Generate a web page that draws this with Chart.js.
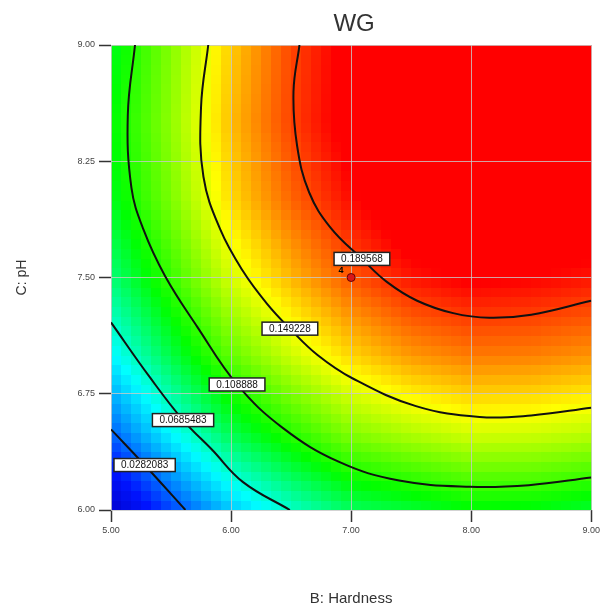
<!DOCTYPE html>
<html>
<head>
<meta charset="utf-8">
<title>WG</title>
<script src="https://cdn.jsdelivr.net/npm/chart.js@4.4.1/dist/chart.umd.min.js"></script>
<style>
  html, body { margin: 0; padding: 0; background: #fff; }
</style>
</head>
<body>
<canvas id="wgChart" width="603" height="612"></canvas>
<script>
// Grid (B: Hardness across, C: pH up)
const hardness = [5, 5.5, 6, 6.5, 7, 7.5, 8, 8.5, 9];
const pH = [6, 6.5, 7, 7.5, 8, 8.5, 9];
const wg = [
    [-0.012, 0.020, 0.048, 0.068, 0.085, 0.091, 0.098, 0.097, 0.092], // pH 6.0
    [0.027, 0.059, 0.088, 0.108, 0.126, 0.135, 0.142, 0.141, 0.137],  // pH 6.5
    [0.058, 0.089, 0.119, 0.140, 0.158, 0.170, 0.176, 0.175, 0.171],  // pH 7.0
    [0.081, 0.111, 0.142, 0.164, 0.183, 0.196, 0.202, 0.200, 0.196],  // pH 7.5
    [0.095, 0.124, 0.157, 0.180, 0.198, 0.213, 0.219, 0.218, 0.213],  // pH 8.0
    [0.099, 0.128, 0.163, 0.187, 0.206, 0.221, 0.227, 0.226, 0.220],  // pH 8.5
    [0.095, 0.126, 0.160, 0.186, 0.205, 0.220, 0.226, 0.225, 0.219]   // pH 9.0
];

// Contour lines
const contour1 = [[5.0, 6.52], [5.28, 6.29], [5.62, 6.0]];
const contour2 = [[5.0, 7.21], [5.32, 6.86], [5.60, 6.58], [5.84, 6.39], [6.10, 6.18], [6.49, 6.0]];
const contour3 = [[5.20, 9.0], [5.14, 8.55], [5.17, 8.08], [5.27, 7.81], [5.45, 7.51], [5.72, 7.18],
                  [6.05, 6.81], [6.43, 6.53], [6.90, 6.31], [7.40, 6.19], [7.99, 6.15], [8.48, 6.16], [9.0, 6.21]];
const contour4 = [[5.81, 9.0], [5.75, 8.6], [5.77, 8.15], [5.91, 7.81], [6.10, 7.54], [6.30, 7.33],
                  [6.49, 7.17], [6.72, 7.00], [7.01, 6.85], [7.54, 6.67], [8.07, 6.60], [8.5, 6.61], [9.0, 6.66]];
const contour5 = [[6.57, 9.0], [6.52, 8.7], [6.55, 8.35], [6.65, 8.05], [6.83, 7.82], [7.09, 7.62],
                  [7.3, 7.47], [7.55, 7.35], [7.85, 7.27], [8.15, 7.24], [8.5, 7.26], [9.0, 7.35]];
const contourText = ['0.0282083', '0.0685483', '0.108888', '0.149228', '0.189568'];
const contourLabelAt = [[5.28, 6.29], [5.60, 6.58], [6.05, 6.81], [6.49, 7.17], [7.09, 7.62]];

const designPoints = [[7.0, 7.5]];
const designCount = ['4'];

const xTicks = [5, 6, 7, 8, 9];
const yTicks = [6, 6.75, 7.5, 8.25, 9];

const FONT = "'Liberation Sans', Arial, sans-serif";

// dark blue -> blue -> cyan -> green -> yellow -> red
function rampColor(v) {
    const stops = [[-0.015, 0, 0, 200], [0.01, 0, 20, 255], [0.06, 0, 255, 255],
                   [0.10, 0, 255, 0], [0.15, 255, 255, 0], [0.20, 255, 0, 0]];
    if (v <= stops[0][0]) return 'rgb(0,0,200)';
    if (v >= stops[stops.length - 1][0]) return 'rgb(255,0,0)';
    for (let i = 1; i < stops.length; i++) {
        if (v <= stops[i][0]) {
            const a = stops[i - 1], b = stops[i];
            const t = (v - a[0]) / (b[0] - a[0]);
            return 'rgb(' + Math.round(a[1] + t * (b[1] - a[1])) + ',' +
                Math.round(a[2] + t * (b[2] - a[2])) + ',' +
                Math.round(a[3] + t * (b[3] - a[3])) + ')';
        }
    }
}

function locate(arr, v) {
    let i = 0;
    while (i < arr.length - 2 && v > arr[i + 1]) i++;
    return [i, (v - arr[i]) / (arr[i + 1] - arr[i])];
}

function sample(x, y) {
    const [i, tx] = locate(hardness, x);
    const [j, ty] = locate(pH, y);
    const a = wg[j][i], b = wg[j][i + 1], c = wg[j + 1][i], d = wg[j + 1][i + 1];
    return (a * (1 - tx) + b * tx) * (1 - ty) + (c * (1 - tx) + d * tx) * ty;
}

// heat map under the grid lines
const surfacePlugin = {
    id: 'surface',
    beforeDraw(chart) {
        const { ctx, scales: { x, y } } = chart;
        const nx = 48, ny = 48;
        const x0 = hardness[0], x1 = hardness[hardness.length - 1];
        const y0 = pH[0], y1 = pH[pH.length - 1];
        const dx = (x1 - x0) / nx, dy = (y1 - y0) / ny;
        ctx.save();
        for (let i = 0; i < nx; i++) {
            const l = Math.floor(x.getPixelForValue(x0 + i * dx));
            const r = Math.ceil(x.getPixelForValue(x0 + (i + 1) * dx));
            for (let j = 0; j < ny; j++) {
                const b = Math.ceil(y.getPixelForValue(y0 + j * dy));
                const t = Math.floor(y.getPixelForValue(y0 + (j + 1) * dy));
                ctx.fillStyle = rampColor(sample(x0 + (i + 0.5) * dx, y0 + (j + 0.5) * dy));
                ctx.fillRect(l, t, r - l, b - t);
            }
        }
        ctx.restore();
    }
};

// title, contour labels and replicate count
const textPlugin = {
    id: 'texts',
    afterDraw(chart) {
        const { ctx, chartArea, scales: { x, y } } = chart;
        ctx.save();
        ctx.fillStyle = '#333';
        ctx.font = '24px ' + FONT;
        ctx.textAlign = 'center';
        ctx.textBaseline = 'middle';
        ctx.fillText('WG', (chartArea.left + chartArea.right) / 2 + 3, 24);

        ctx.font = '10px ' + FONT;
        contourLabelAt.forEach((p, k) => {
            const px = x.getPixelForValue(p[0]);
            const py = y.getPixelForValue(p[1]);
            const w = ctx.measureText(contourText[k]).width + 14;
            const h = 13;
            ctx.fillStyle = '#fff';
            ctx.strokeStyle = '#222';
            ctx.lineWidth = 1.5;
            ctx.fillRect(px - w / 2, py - h / 2, w, h);
            ctx.strokeRect(px - w / 2, py - h / 2, w, h);
            ctx.fillStyle = '#111';
            ctx.fillText(contourText[k], px, py + 0.5);
        });

        ctx.font = 'bold 9px ' + FONT;
        designPoints.forEach((p, k) => {
            ctx.fillStyle = '#000';
            ctx.fillText(designCount[k], x.getPixelForValue(p[0]) - 10, y.getPixelForValue(p[1]) - 7);
        });
        ctx.restore();
    }
};

function contourSet(pts) {
    return {
        data: pts.map(p => ({ x: p[0], y: p[1] })),
        showLine: true,
        borderColor: '#111',
        borderWidth: 2,
        pointRadius: 0,
        tension: 0.4
    };
}

new Chart(document.getElementById('wgChart'), {
    type: 'scatter',
    data: {
        datasets: [
            contourSet(contour1),
            contourSet(contour2),
            contourSet(contour3),
            contourSet(contour4),
            contourSet(contour5),
            {
                data: designPoints.map(p => ({ x: p[0], y: p[1] })),
                pointRadius: 4,
                backgroundColor: '#d81818',
                borderColor: '#600',
                borderWidth: 1
            }
        ]
    },
    options: {
        responsive: false,
        animation: false,
        layout: { padding: { top: 45, right: 11, left: 0, bottom: 0 } },
        plugins: {
            legend: { display: false },
            tooltip: { enabled: false }
        },
        scales: {
            x: {
                type: 'linear',
                min: xTicks[0],
                max: xTicks[xTicks.length - 1],
                afterBuildTicks: s => { s.ticks = xTicks.map(v => ({ value: v })); },
                afterFit: s => { s.height = 102; },
                ticks: {
                    callback: v => Number(v).toFixed(2),
                    font: { size: 9, family: FONT },
                    color: '#444',
                    padding: 3,
                    maxRotation: 0
                },
                grid: { color: 'rgba(200,200,200,0.8)', tickColor: '#333', tickLength: 12, tickWidth: 1.5 },
                border: { display: false },
                title: {
                    display: true,
                    text: 'B: Hardness',
                    color: '#333',
                    font: { size: 15, family: FONT },
                    padding: { top: 0, bottom: 4 }
                }
            },
            y: {
                type: 'linear',
                min: yTicks[0],
                max: yTicks[yTicks.length - 1],
                afterBuildTicks: s => { s.ticks = yTicks.map(v => ({ value: v })); },
                afterFit: s => { s.width = 111; },
                ticks: {
                    callback: v => Number(v).toFixed(2),
                    font: { size: 9, family: FONT },
                    color: '#444',
                    padding: 4
                },
                grid: { color: 'rgba(200,200,200,0.8)', tickColor: '#333', tickLength: 12, tickWidth: 1.5 },
                border: { display: false },
                title: {
                    display: true,
                    text: 'C: pH',
                    color: '#333',
                    font: { size: 14, family: FONT },
                    padding: { top: 14, bottom: 0 }
                }
            }
        }
    },
    plugins: [surfacePlugin, textPlugin]
});
</script>
</body>
</html>
